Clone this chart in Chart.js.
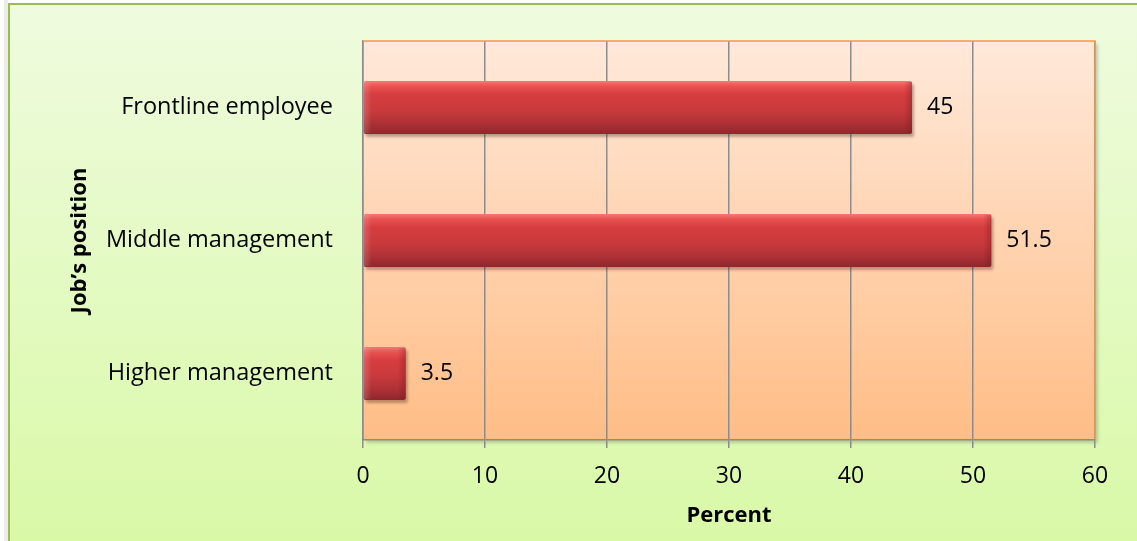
<!DOCTYPE html>
<html>
<head>
<meta charset="utf-8">
<title>Job's position</title>
<script src="https://cdn.jsdelivr.net/npm/chart.js@4.4.0/dist/chart.umd.min.js"></script>
<style>
  html, body { margin: 0; padding: 0; background: #fff; }
  canvas { display: block; }
</style>
</head>
<body>
<canvas id="positionChart" width="1137" height="541"></canvas>
<script>
const positions = ['Frontline employee', 'Middle management', 'Higher management'];
const percents = [45, 51.5, 3.5];
const percentTicks = [0, 10, 20, 30, 40, 50, 60];

const BAR_SHARE = 0.4;

Chart.defaults.font.family = "'Open Sans', 'Noto Sans', sans-serif";
Chart.defaults.color = '#000';

// red bar with a glossy top edge and darker underside
function barFill(context) {
  const chart = context.chart;
  const yScale = chart.scales.y;
  if (!yScale || !isFinite(yScale.height)) return '#d43c40';
  const center = yScale.getPixelForValue(context.dataIndex);
  const half = (yScale.height / positions.length) * BAR_SHARE / 2;
  const g = chart.ctx.createLinearGradient(0, center - half, 0, center + half);
  g.addColorStop(0, '#f47a78');
  g.addColorStop(0.1, '#e85250');
  g.addColorStop(0.25, '#d63d40');
  g.addColorStop(0.55, '#c93a3c');
  g.addColorStop(0.8, '#ad3136');
  g.addColorStop(1, '#8d272c');
  return g;
}

const backdrop = {
  id: 'backdrop',
  beforeDraw(chart) {
    const { ctx, width, height, chartArea: a } = chart;
    ctx.save();
    ctx.fillStyle = '#fff';
    ctx.fillRect(0, 0, width, height);
    ctx.fillStyle = '#ececec';
    ctx.fillRect(4, 0, 4, height);

    const outer = ctx.createLinearGradient(0, 3, 0, height);
    outer.addColorStop(0, '#effbdf');
    outer.addColorStop(1, '#d9f9a7');
    ctx.fillStyle = outer;
    ctx.fillRect(8, 3, width - 8, height - 3);
    ctx.strokeStyle = '#9bbb59';
    ctx.lineWidth = 2;
    ctx.beginPath();
    ctx.moveTo(9, height);
    ctx.lineTo(9, 4);
    ctx.lineTo(width, 4);
    ctx.stroke();

    ctx.shadowColor = 'rgba(0,0,0,0.18)';
    ctx.shadowOffsetX = 3;
    ctx.shadowOffsetY = 3;
    ctx.shadowBlur = 3;
    const plot = ctx.createLinearGradient(0, a.top, 0, a.bottom);
    plot.addColorStop(0, '#ffe9da');
    plot.addColorStop(1, '#ffbd86');
    ctx.fillStyle = plot;
    ctx.fillRect(a.left, a.top, a.right - a.left, a.bottom - a.top);
    ctx.restore();
  },
  beforeDatasetsDraw(chart) {
    // orange frame on the top and right of the plot
    const { ctx, chartArea: a } = chart;
    ctx.save();
    ctx.strokeStyle = '#f79646';
    ctx.lineWidth = 1.5;
    ctx.beginPath();
    ctx.moveTo(a.left + 1, a.top);
    ctx.lineTo(a.right, a.top);
    ctx.lineTo(a.right, a.bottom - 1);
    ctx.stroke();
    ctx.restore();
  },
  beforeDatasetDraw(chart) {
    const ctx = chart.ctx;
    ctx.save();
    ctx.shadowColor = 'rgba(60,30,20,0.35)';
    ctx.shadowOffsetX = 2;
    ctx.shadowOffsetY = 3;
    ctx.shadowBlur = 3;
  },
  afterDatasetDraw(chart) {
    const ctx = chart.ctx;
    ctx.restore();
    // shaded bar ends
    chart.getDatasetMeta(0).data.forEach(bar => {
      const { x, y, base, height } = bar.getProps(['x', 'y', 'base', 'height'], true);
      const top = y - height / 2;
      const w = Math.min(8, (x - base) / 3);
      const right = ctx.createLinearGradient(x - w, 0, x, 0);
      right.addColorStop(0, 'rgba(110,20,25,0)');
      right.addColorStop(1, 'rgba(110,20,25,0.35)');
      ctx.fillStyle = right;
      ctx.fillRect(x - w, top + 1, w, height - 2);
      const left = ctx.createLinearGradient(base, 0, base + w, 0);
      left.addColorStop(0, 'rgba(255,255,255,0.18)');
      left.addColorStop(1, 'rgba(255,255,255,0)');
      ctx.fillStyle = left;
      ctx.fillRect(base, top + 1, w, height - 2);
    });
  },
  afterDatasetsDraw(chart) {
    const ctx = chart.ctx;
    ctx.save();
    ctx.font = "23px 'Open Sans', 'Noto Sans', sans-serif";
    ctx.fillStyle = '#000';
    ctx.textAlign = 'left';
    ctx.textBaseline = 'middle';
    chart.getDatasetMeta(0).data.forEach((bar, i) => {
      const { x, y } = bar.getProps(['x', 'y'], true);
      ctx.fillText(String(percents[i]), x + 15, y);
    });
    ctx.restore();
  }
};

new Chart(document.getElementById('positionChart'), {
  type: 'bar',
  data: {
    labels: positions,
    datasets: [{
      data: percents,
      backgroundColor: barFill,
      borderWidth: 0,
      borderRadius: 2,
      borderSkipped: false,
      categoryPercentage: 1,
      barPercentage: BAR_SHARE
    }]
  },
  options: {
    indexAxis: 'y',
    responsive: false,
    animation: false,
    layout: { padding: { top: 41, right: 42, left: 0, bottom: 0 } },
    plugins: {
      legend: { display: false },
      tooltip: { enabled: false }
    },
    scales: {
      x: {
        min: percentTicks[0],
        max: percentTicks[percentTicks.length - 1],
        ticks: { stepSize: 10, font: { size: 23 }, padding: 15, maxRotation: 0 },
        grid: { color: '#8c8c8c', lineWidth: 1.5, tickLength: 8 },
        border: { color: '#8c8c8c', width: 1.5 },
        title: {
          display: true,
          text: 'Percent',
          font: { size: 22, weight: 'bold' },
          padding: { top: 0, bottom: 12 }
        },
        afterFit(scale) {
          scale.height = 101;
          scale.paddingLeft = 0;
          scale.paddingRight = 0;
        }
      },
      y: {
        grid: { display: false, drawTicks: false },
        border: { color: '#8c8c8c', width: 1.5 },
        ticks: { font: { size: 23.5 }, padding: 30 },
        title: {
          display: true,
          text: 'Job’s position',
          font: { size: 22, weight: 'bold' },
          padding: { top: 67, bottom: 0 }
        },
        afterFit(scale) {
          scale.width = 363;
          scale.paddingTop = 0;
          scale.paddingBottom = 0;
        }
      }
    }
  },
  plugins: [backdrop]
});
</script>
</body>
</html>
